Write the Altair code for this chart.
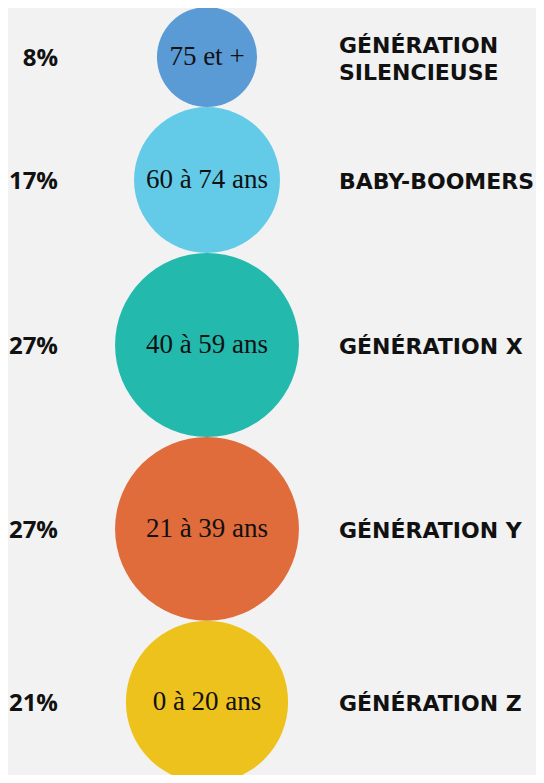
import math
import altair as alt
import pandas as pd

ages = ["75 et +", "60 à 74 ans", "40 à 59 ans", "21 à 39 ans", "0 à 20 ans"]
pct = [8, 17, 27, 27, 21]
pct_labels = ["8%", "17%", "27%", "27%", "21%"]
generations = ["GÉNÉRATION\nSILENCIEUSE", "BABY-BOOMERS", "GÉNÉRATION X", "GÉNÉRATION Y", "GÉNÉRATION Z"]
colors = ["#5b9bd5", "#63cbe8", "#23b9ac", "#e06b3b", "#eec21d"]

# circles stacked, area proportional to share
radius = [math.sqrt(p) for p in pct]
centers = []
acc = 0.0
for r in radius:
    centers.append(acc + r)
    acc += 2 * r
total = acc

W, H = 528, 767
k = 776 / (2 * total)  # px per sqrt-unit

df = pd.DataFrame({
    "age": ages,
    "pct": pct,
    "pct_label": pct_labels,
    "gen": generations,
    "center": centers,
})
df["area"] = [4 * (2 * k * math.sqrt(p)) ** 2 for p in pct]
df["multi"] = ["\n" in g for g in generations]

yscale = alt.Scale(domain=[0, total], range=[-1, 775])
y = alt.Y("center:Q", scale=yscale, axis=None)

base = alt.Chart(df)

circles = base.mark_circle(opacity=1).encode(
    x=alt.value(199),
    y=y,
    size=alt.Size("area:Q", scale=None, legend=None),
    color=alt.Color("age:N", scale=alt.Scale(domain=ages, range=colors), legend=None),
)

age_text = base.mark_text(font="Liberation Serif", fontSize=27, color="#111111", align="center", baseline="middle").encode(
    x=alt.value(199), y=y, text="age:N"
)

pct_text = base.mark_text(font="Open Sans", fontWeight="bold", fontSize=24, color="#111111", align="right", baseline="middle", dy=2).encode(
    x=alt.value(50), y=y, text="pct_label:N"
)

gen_style = dict(font="DejaVu Sans", fontWeight="bold", fontSize=22, color="#111111", align="left", baseline="middle", lineBreak="\n", lineHeight=27)

gen_text_single = base.transform_filter("!datum.multi").mark_text(dy=2, **gen_style).encode(
    x=alt.value(331), y=y, text="gen:N"
)
gen_text_multi = base.transform_filter("datum.multi").mark_text(dy=-11, **gen_style).encode(
    x=alt.value(331), y=y, text="gen:N"
)

chart = alt.layer(circles, age_text, pct_text, gen_text_single, gen_text_multi).properties(
    width=W, height=H, padding=0, autosize="none", background="#f2f2f2"
).configure_view(stroke=None, clip=False)

chart.save("out.html", embed_options={"renderer": "svg", "actions": False})
